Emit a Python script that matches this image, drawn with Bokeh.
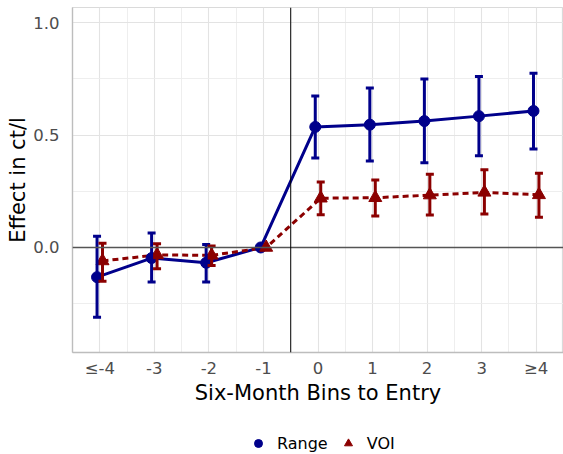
from bokeh.plotting import figure
from bokeh.layouts import column
from bokeh.models import (FixedTicker, Whisker, TeeHead, ColumnDataSource, Span,
                          Legend, LegendItem, Range1d, PrintfTickFormatter)
from bokeh.embed import file_html
from bokeh.resources import INLINE

bins = ["≤-4", "-3", "-2", "-1", "0", "1", "2", "3", "≥4"]
range_est = [-0.132, -0.047, -0.068, 0.0, 0.536, 0.546, 0.562, 0.584, 0.607]
range_lo = [-0.310, -0.154, -0.154, 0.0, 0.398, 0.384, 0.377, 0.408, 0.438]
range_hi = [0.050, 0.064, 0.013, 0.0, 0.674, 0.709, 0.749, 0.760, 0.775]
voi_est = [-0.060, -0.033, -0.035, 0.0, 0.219, 0.221, 0.233, 0.245, 0.234]
voi_lo = [-0.150, -0.095, -0.080, 0.0, 0.146, 0.140, 0.144, 0.149, 0.134]
voi_hi = [0.019, 0.016, 0.006, 0.0, 0.291, 0.300, 0.326, 0.346, 0.330]
series_names = ["Range", "VOI"]

FONT = "DejaVu Sans"
BLUE = "#00008B"
RED = "#8B0000"
DODGE = 0.05

pos = list(range(1, len(bins) + 1))

p = figure(width=563, height=410, output_backend="svg", toolbar_location=None,
           x_range=Range1d(0.5, 9.5), y_range=Range1d(-0.467, 1.067),
           min_border_left=72, min_border_right=0, min_border_top=7,
           min_border_bottom=58)
p.background_fill_color = "white"
p.border_fill_color = "white"
p.outline_line_color = "#DADADA"
p.outline_line_width = 1.2

# axes
p.xaxis.ticker = FixedTicker(ticks=pos, minor_ticks=[x + 0.5 for x in pos[:-1]])
p.xaxis.major_label_overrides = {x: b for x, b in zip(pos, bins)}
p.yaxis.ticker = FixedTicker(ticks=[0.0, 0.5, 1.0], minor_ticks=[-0.25, 0.25, 0.75])
p.yaxis.formatter = PrintfTickFormatter(format="%.1f")
for ax in (p.xaxis, p.yaxis):
    ax.major_tick_line_color = None
    ax.minor_tick_line_color = None
    ax.major_tick_out = 0
    ax.major_tick_in = 0
    ax.axis_line_color = "#BDBDBD"
    ax.axis_line_width = 1.3
    ax.major_label_text_font = FONT
    ax.major_label_text_font_size = "16.5px"
    ax.major_label_text_color = "#4D4D4D"
    ax.axis_label_text_font = FONT
    ax.axis_label_text_font_size = "21px"
    ax.axis_label_text_font_style = "normal"
    ax.axis_label_text_color = "black"
p.xaxis.axis_label = "Six-Month Bins to Entry"
p.yaxis.axis_label = "Effect in ct/l"
p.xaxis.major_label_standoff = 2
p.xaxis.axis_label_standoff = 0
p.yaxis.major_label_standoff = 9
p.yaxis.axis_label_standoff = 0

for g in (p.xgrid, p.ygrid):
    g.grid_line_color = "#E3E3E3"
    g.grid_line_width = 1.1
    g.minor_grid_line_color = "#ECECEC"
    g.minor_grid_line_width = 0.9

p.add_layout(Span(location=0, dimension="width", line_color="#555555", line_width=1.4))
p.add_layout(Span(location=4.5, dimension="height", line_color="black", line_width=1))

# sources
x_r = [x - DODGE for x in pos]
x_v = [x + DODGE for x in pos]
src_r = ColumnDataSource(dict(x=x_r, y=range_est))
src_v = ColumnDataSource(dict(x=x_v, y=voi_est))
keep_r = [i for i in range(len(pos)) if range_lo[i] != range_hi[i]]
keep_v = [i for i in range(len(pos)) if voi_lo[i] != voi_hi[i]]
err_r = ColumnDataSource(dict(x=[x_r[i] for i in keep_r], lo=[range_lo[i] for i in keep_r],
                              hi=[range_hi[i] for i in keep_r]))
err_v = ColumnDataSource(dict(x=[x_v[i] for i in keep_v], lo=[voi_lo[i] for i in keep_v],
                              hi=[voi_hi[i] for i in keep_v]))

for src, col in ((err_r, BLUE), (err_v, RED)):
    w = Whisker(source=src, base="x", lower="lo", upper="hi", dimension="height",
                line_color=col, line_width=3,
                upper_head=TeeHead(size=8, line_color=col, line_width=3),
                lower_head=TeeHead(size=8, line_color=col, line_width=3))
    w.level = "glyph"
    p.add_layout(w)

p.line("x", "y", source=src_r, line_color=BLUE, line_width=3)
p.line("x", "y", source=src_v, line_color=RED, line_width=3, line_dash="6 4")
p.scatter("x", "y", source=src_r, marker="circle", size=11, color=BLUE)
p.scatter("x", "y", source=src_v, marker="triangle", size=13, color=RED)

# legend strip below the plot (its ranges keep the data itself out of view)
lg = figure(width=563, height=44, output_backend="svg", toolbar_location=None,
            x_axis_type=None, y_axis_type=None, x_range=Range1d(100, 101),
            y_range=Range1d(100, 101), min_border=0)
lg.outline_line_color = None
lg.xgrid.visible = False
lg.ygrid.visible = False
lr = lg.scatter("x", "y", source=src_r, marker="circle", size=12, color=BLUE)
lv = lg.scatter("x", "y", source=src_v, marker="triangle", size=14, color=RED)
legend = Legend(items=[LegendItem(label=series_names[0], renderers=[lr]),
                       LegendItem(label=series_names[1], renderers=[lv])],
                orientation="horizontal", location=(176, 1),
                label_text_font=FONT, label_text_font_size="16px",
                label_text_color="black",
                label_standoff=9, spacing=10, glyph_width=20, glyph_height=20,
                margin=0, padding=0, border_line_color=None,
                background_fill_alpha=0)
lg.add_layout(legend)

layout = column(p, lg, spacing=0)
open("out.html", "w").write(file_html(layout, INLINE))
